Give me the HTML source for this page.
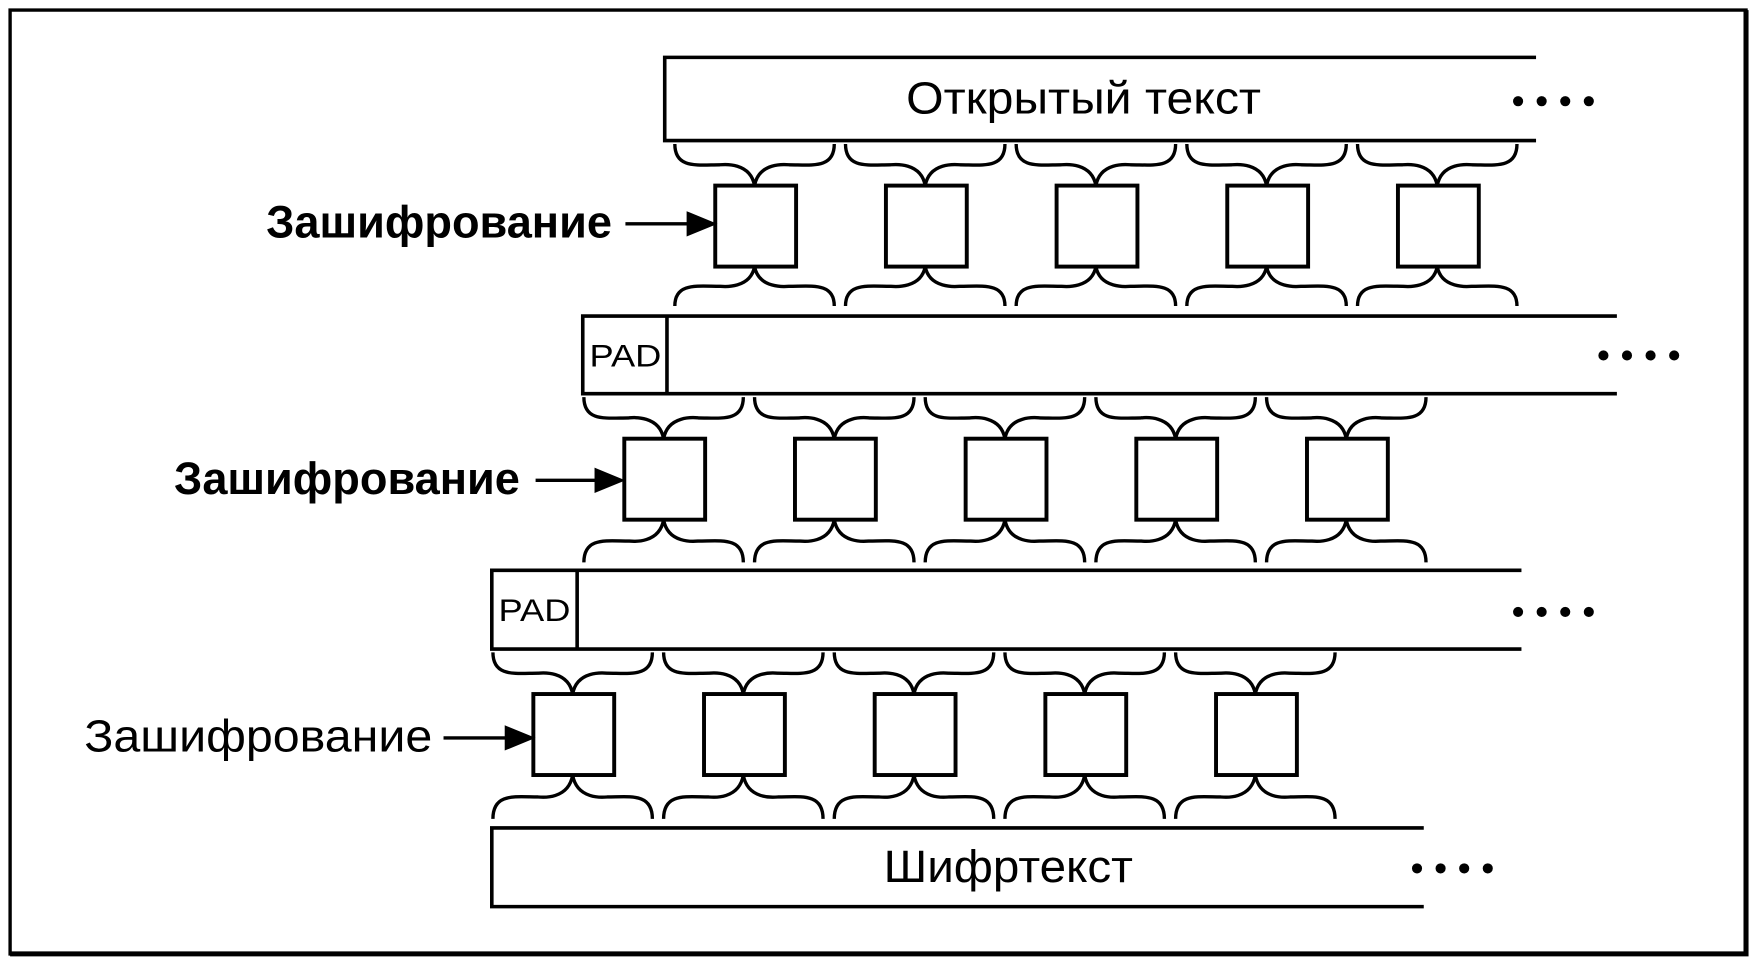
<!DOCTYPE html>
<html><head><meta charset="utf-8"><style>
html,body{margin:0;padding:0;background:#fff;}
svg{display:block;}
text{font-family:"Liberation Sans",sans-serif;fill:#000;}
</style></head><body>
<svg id="s" width="1755" height="964" viewBox="0 0 1563 857" preserveAspectRatio="none" xmlns="http://www.w3.org/2000/svg">
<rect x="0" y="0" width="1563" height="857" fill="#fff"/>
<g fill="none" stroke="#000" stroke-width="3.2">
<path d="M9,9 H1555 V848 H9 Z" stroke-width="3"/>
<path d="M1555,9 V848 H9" stroke-width="4.5"/>
<path d="M1368,51 H592 V125 H1368"/>
<path d="M1440,281 H519 V350 H1440 M594,281 V350"/>
<path d="M1355,507 H438 V577 H1355 M514,507 V577"/>
<path d="M1268,736 H438 V806 H1268"/>
</g>
<g id="dyn" fill="none" stroke="#000" stroke-width="3"></g>
<text x="965" y="101" font-size="40" text-anchor="middle" textLength="316" lengthAdjust="spacingAndGlyphs">Открытый текст</text>
<text x="898" y="784" font-size="40" text-anchor="middle" textLength="222" lengthAdjust="spacingAndGlyphs">Шифртекст</text>
<text x="557" y="326" font-size="28" text-anchor="middle" textLength="64" lengthAdjust="spacingAndGlyphs">PAD</text>
<text x="476" y="552" font-size="28" text-anchor="middle" textLength="64" lengthAdjust="spacingAndGlyphs">PAD</text>
<text x="237" y="211" font-size="40" font-weight="bold" textLength="308" lengthAdjust="spacingAndGlyphs">Зашифрование</text>
<text x="155" y="439" font-size="40" font-weight="bold" textLength="308" lengthAdjust="spacingAndGlyphs">Зашифрование</text>
<text x="75" y="668" font-size="40" textLength="310" lengthAdjust="spacingAndGlyphs">Зашифрование</text>
</svg>
<script>
var g=document.getElementById('dyn'),h='';
function brace(x0,x1,y0,y1){var xc=(x0+x1)/2,ym=(y0+y1)/2,d=y1-y0;
return '<path d="M'+x0+','+y0+' C'+x0+','+(y0+d*0.6)+' '+(x0+20)+','+ym+' '+(x0+40)+','+ym+' C'+(xc-30)+','+ym+' '+(xc-4)+','+(ym-d*0.1)+' '+xc+','+y1+' C'+(xc+4)+','+(ym-d*0.1)+' '+(xc+30)+','+ym+' '+(x1-40)+','+ym+' C'+(x1-20)+','+ym+' '+x1+','+(y0+d*0.6)+' '+x1+','+y0+'"/>';}
var rows=[{bx:637,y:165,t:128,b:272},{bx:556,y:390,t:353,b:500},{bx:475,y:617,t:580,b:728}];
rows.forEach(function(r){for(var i=0;i<5;i++){var x=r.bx+i*152;
h+='<rect x="'+x+'" y="'+r.y+'" width="72" height="72" stroke-width="3.5"/>';
var cx=x+36;h+=brace(cx-72,cx+70,r.t,r.y);h+=brace(cx-72,cx+70,r.b,r.y+72);}});
var arr=[[557,635,199],[477,553,427],[395,473,656]];
arr.forEach(function(a){h+='<line x1="'+a[0]+'" y1="'+a[2]+'" x2="'+(a[1]-18)+'" y2="'+a[2]+'"/>';
h+='<path d="M'+(a[1]-22)+','+(a[2]-9)+' L'+a[1]+','+a[2]+' L'+(a[1]-22)+','+(a[2]+9)+' Z" fill="#000"/>';});
var dots=[[1352,90],[1428,316],[1352,544],[1262,772]];
dots.forEach(function(d){for(var i=0;i<4;i++)h+='<circle cx="'+(d[0]+i*21)+'" cy="'+d[1]+'" r="4.5" fill="#000" stroke="none"/>';});
g.innerHTML=h;
</script>
</body></html>
